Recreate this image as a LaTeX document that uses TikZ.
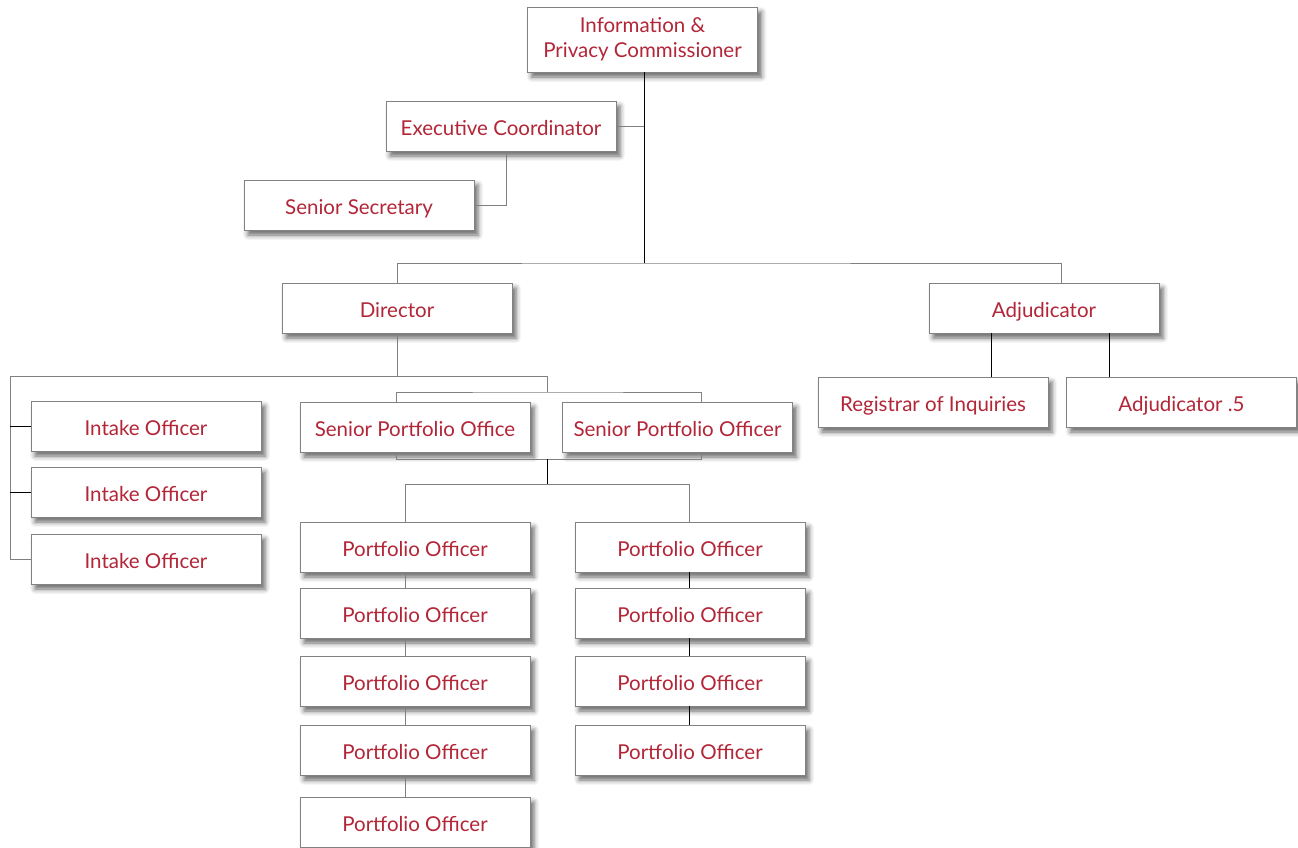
\documentclass[tikz,border=0pt]{standalone}
\usepackage{fontspec}
\setmainfont{Lato}
\usepackage{tikz}
\usetikzlibrary{positioning}
\usetikzlibrary{shadows.blur}
\usepackage{xcolor}

\definecolor{orgred}{RGB}{178,38,56}
\definecolor{orgframe}{RGB}{130,130,130}

\tikzset{
  post/.style={draw=orgframe, line width=0.9pt, fill=white, text=orgred,
    minimum width=230pt, minimum height=50pt, inner sep=0pt, align=center,
    text height=20pt, text depth=1pt,
    font=\fontsize{20.5}{25}\selectfont,
    blur shadow={shadow xshift=4pt, shadow yshift=-5pt, shadow blur radius=5pt, shadow opacity=60}},
  link/.style={draw=gray, line width=0.8pt},
  linkdark/.style={draw=black, line width=0.9pt}
}

\begin{document}
\begin{tikzpicture}[x=1pt,y=-1pt]
\useasboundingbox (0,0) rectangle (1298,847);

% points where the connectors turn
\coordinate (top) at (644,263);
\coordinate (execdrop) at (506,151);
\coordinate (adjin) at (1061,283);
\coordinate (lbus) at (10,376);
\coordinate (rbus) at (547,376);
\coordinate (spo1in) at (396,402);
\coordinate (spo2in) at (701,402);
\coordinate (spo1out) at (396,452);
\coordinate (spo2out) at (701,452);
\coordinate (pobus) at (547,459);
\coordinate (pl1in) at (405,522);
\coordinate (pr1in) at (689,522);
\coordinate (adjl) at (991,377);
\coordinate (adjr) at (1109,377);

% top of the chart
\node[post, minimum height=65pt, text height=, text depth=] (ipc) at (642.5,39.5) {Information \&\\Privacy Commissioner};
\node[post] (exec) at (501,126) {Executive Coordinator};
\node[post] (sec) at (359,205) {Senior Secretary};
\node[post] (dir) at (397,308) {Director};
\node[post] (adj) at (1044,308) {Adjudicator};
\node[post] (reg) at (933,402) {Registrar of Inquiries};
\node[post] (adjh) at (1181.5,402) {Adjudicator .5};

% intake officers
\foreach \i/\y in {1/426,2/492,3/559}
  \node[post] (in\i) at (146,\y) {Intake Officer};

% senior portfolio officers
\node[post] (spo1) at (415,427) {Senior Portfolio Office};
\node[post] (spo2) at (677.5,427) {Senior Portfolio Officer};

% portfolio officers
\foreach \i/\y in {1/547,2/613,3/681,4/750,5/822}
  \node[post] (pl\i) at (415,\y) {Portfolio Officer};
\foreach \i/\y in {1/547,2/613,3/681,4/750}
  \node[post] (pr\i) at (690,\y) {Portfolio Officer};

\draw[linkdark] (ipc.south -| top) -- (top);
\draw[link] (exec.east) -- (exec.east -| top);
\draw[link] (execdrop) |- (sec.east);
\draw[link] (dir.north) |- (top) -| (adjin);

\draw[link] (dir.south) -- (dir.south |- lbus);
\draw[link] (lbus) -- (rbus);
\draw[link] (lbus) |- (in3.west);
\draw[linkdark] (lbus |- in1.west) -- (in1.west);
\draw[linkdark] (lbus |- in2.west) -- (in2.west);

\draw[link] (rbus) -- ++(0,16) coordinate (spobus);
\draw[link] (spo1in) |- (spobus) -| (spo2in);
\draw[link] (spo1out) |- (pobus) -| (spo2out);
\draw[linkdark] (pobus) -- ++(0,25) coordinate (pofork);
\draw[link] (pofork) -| (pl1in);
\draw[link] (pofork) -| (pr1in);

\foreach \a/\b in {1/2,2/3,3/4,4/5}
  \draw[link] (pl\a.south -| pl1in) -- (pl\b.north -| pl1in);
\foreach \a/\b in {1/2,2/3,3/4}
  \draw[linkdark] (pr\a.south -| pr1in) -- (pr\b.north -| pr1in);

\draw[linkdark] (adjl |- adj.south) -- (adjl);
\draw[linkdark] (adjr |- adj.south) -- (adjr);
\end{tikzpicture}
\end{document}
